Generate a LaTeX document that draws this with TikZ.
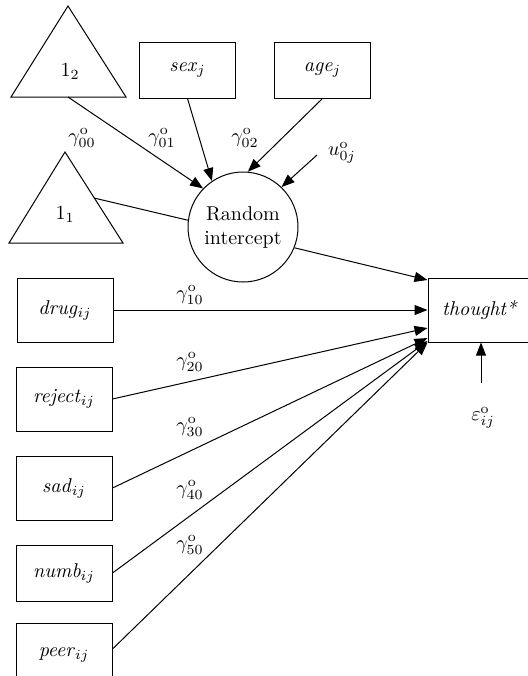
\documentclass[tikz,border=0pt]{standalone}
\usetikzlibrary{arrows.meta}
\begin{document}
\begin{tikzpicture}[x=0.5pt,y=-0.5pt,
  obsbox/.style={draw, line width=0.5pt, minimum width=48pt, minimum height=32pt, inner sep=0pt},
  ribox/.style={draw, circle, line width=0.5pt, minimum size=55pt, inner sep=0pt, align=center},
  conn/.style={line width=0.5pt, -{Triangle[length=6.5pt,width=5pt]}},
  coef/.style={inner sep=0pt}]
\useasboundingbox (0,0) rectangle (527,676);
% constants
\draw[line width=0.5pt] (68,6) -- (126,97) -- (11,97) -- cycle;
\node (one2) at (70,72) {$1_2$};
\coordinate (one2b) at (68,97);
\draw[line width=0.5pt] (65,152) -- (123,243) -- (9,243) -- cycle;
\node (one1) at (65,215) {$1_1$};
\coordinate (one1r) at (94,198);
% level 2
\node[obsbox, minimum height=28pt] (sex) at (187.5,70) {\textit{sex}$_j$};
\node[obsbox, minimum height=28pt] (age) at (322.5,70) {\textit{age}$_j$};
\node[ribox] (ri) at (243,227) {Random\\intercept};
\coordinate (u) at (317,155);
\draw[conn] (one2b) -- (ri.136);
\draw[conn] (sex.south) -- (ri.124);
\draw[conn] (age.south) -- (ri.85);
\draw[conn] (u) -- (ri.46);
\draw[line width=0.5pt] (one1r) -- (ri.173);
\node[coef] (g00) at (82,138) {$\gamma^{\mathrm{o}}_{00}$};
\node[coef] (g01) at (162,138) {$\gamma^{\mathrm{o}}_{01}$};
\node[coef] (g02) at (245,138) {$\gamma^{\mathrm{o}}_{02}$};
\node[coef] (ulab) at (342,153) {$u^{\mathrm{o}}_{0j}$};
% level 1
\node[obsbox, minimum width=52pt] (thought) at (480,310) {\textit{thought*}};
\node[obsbox] (drug) at (65,310) {\textit{drug}$_{ij}$};
\node[obsbox] (reject) at (64,399) {\textit{reject}$_{ij}$};
\node[obsbox] (sad) at (64,488) {\textit{sad}$_{ij}$};
\node[obsbox, minimum height=28pt] (numb) at (64,573) {\textit{numb}$_{ij}$};
\node[obsbox] (peer) at (64,655) {\textit{peer}$_{ij}$};
\coordinate (eps) at (481,383);
\draw[conn] (ri.-22) -- ([yshift=15pt]thought.west);
\draw[conn] (drug.east) -- (thought.west);
\draw[conn] (reject.east) -- ([yshift=-9pt]thought.west);
\draw[conn] (sad.east) -- ([yshift=-14pt]thought.west);
\draw[conn] (numb.east) -- ([yshift=-15.5pt]thought.west);
\draw[conn] ([yshift=3pt]peer.east) -- (thought.south west);
\draw[conn] (eps) -- (eps |- thought.south);
\node[coef] (g10) at (190,295) {$\gamma^{\mathrm{o}}_{10}$};
\node[coef] (g20) at (190,362) {$\gamma^{\mathrm{o}}_{20}$};
\node[coef] (g30) at (190,427) {$\gamma^{\mathrm{o}}_{30}$};
\node[coef] (g40) at (190,490) {$\gamma^{\mathrm{o}}_{40}$};
\node[coef] (g50) at (190,545) {$\gamma^{\mathrm{o}}_{50}$};
\node[coef] (epslab) at (483,418) {$\varepsilon^{\mathrm{o}}_{ij}$};
\end{tikzpicture}
\end{document}
